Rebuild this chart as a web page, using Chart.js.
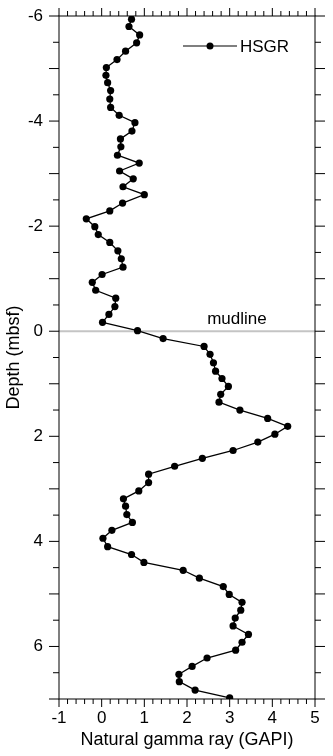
<!DOCTYPE html>
<html>
<head>
<meta charset="utf-8">
<script src="https://cdn.jsdelivr.net/npm/chart.js@4"></script>
<style>
  body { margin: 0; background: #fff; }
  canvas { display: block; }
</style>
</head>
<body>
<canvas id="myChart1" width="333" height="756"></canvas>
<script>
// depth below seafloor (mbsf)
const depth = [
  -5.94, -5.80, -5.64, -5.49, -5.33, -5.17, -5.02, -4.87, -4.73, -4.58,
  -4.42, -4.26, -4.11, -3.97, -3.81, -3.66, -3.51, -3.35, -3.20, -3.05,
  -2.90, -2.75, -2.60, -2.44, -2.29, -2.14, -1.99, -1.84, -1.69, -1.53,
  -1.38, -1.22, -1.08, -0.93, -0.78, -0.63, -0.47, -0.32, -0.17, -0.01,
  0.14, 0.29, 0.44, 0.60, 0.76, 0.90, 1.05, 1.20, 1.35, 1.50,
  1.66, 1.81, 1.96, 2.11, 2.27, 2.42, 2.57, 2.72, 2.88, 3.04,
  3.19, 3.33, 3.49, 3.64, 3.79, 3.94, 4.10, 4.25, 4.40, 4.55,
  4.70, 4.86, 5.01, 5.16, 5.31, 5.46, 5.61, 5.77, 5.92, 6.07,
  6.22, 6.38, 6.53, 6.67, 6.83, 6.98
];
// HSGR natural gamma ray (GAPI)
const hsgr = [
  0.70, 0.64, 0.89, 0.82, 0.56, 0.36, 0.11, 0.10, 0.14, 0.21,
  0.19, 0.21, 0.41, 0.78, 0.71, 0.44, 0.45, 0.37, 0.88, 0.42,
  0.74, 0.50, 1.00, 0.49, 0.19, -0.36, -0.16, -0.08, 0.19, 0.38,
  0.46, 0.50, 0.01, -0.22, -0.14, 0.33, 0.31, 0.17, 0.02, 0.84,
  1.44, 2.40, 2.54, 2.62, 2.67, 2.82, 2.97, 2.79, 2.75, 3.24,
  3.89, 4.36, 4.06, 3.66, 3.08, 2.36, 1.71, 1.10, 1.10, 0.87,
  0.51, 0.56, 0.59, 0.72, 0.24, 0.03, 0.14, 0.70, 0.99, 1.91,
  2.29, 2.85, 2.99, 3.29, 3.26, 3.13, 3.08, 3.44, 3.29, 3.14,
  2.47, 2.12, 1.81, 1.82, 2.19, 3.00
];
const xTickValues = [-1, 0, 1, 2, 3, 4, 5];
const yTickValues = [-6, -4, -2, 0, 2, 4, 6];
const mudlineDepth = 0;
const mudlineLabel = 'mudline';
const seriesName = 'HSGR';

const FONT = 'Liberation Sans, Arial, Helvetica, sans-serif';

// frame, outward ticks, mudline and inset legend
const decorations = {
  id: 'decorations',
  beforeDatasetsDraw(chart) {
    const {ctx, chartArea: a, scales: {x, y}} = chart;
    const my = y.getPixelForValue(mudlineDepth);
    ctx.save();
    ctx.strokeStyle = '#c4c4c4';
    ctx.lineWidth = 2;
    ctx.beginPath();
    ctx.moveTo(a.left, my);
    ctx.lineTo(a.right, my);
    ctx.stroke();
    ctx.fillStyle = '#000';
    ctx.font = '17px ' + FONT;
    ctx.textAlign = 'center';
    ctx.textBaseline = 'bottom';
    ctx.fillText(mudlineLabel, x.getPixelForValue(3.17), my - 3);
    ctx.restore();
  },
  afterDraw(chart) {
    const {ctx, chartArea: a, scales: {x, y}} = chart;
    ctx.save();
    ctx.strokeStyle = '#000';
    ctx.lineWidth = 1;
    ctx.strokeRect(a.left, a.top, a.right - a.left, a.bottom - a.top);
    ctx.beginPath();
    for (let i = 0; i <= 30; i++) {
      const px = x.getPixelForValue(-1 + i * 0.2);
      const len = i % 5 === 0 ? 8 : 5;
      ctx.moveTo(px, a.bottom);
      ctx.lineTo(px, a.bottom + len);
      ctx.moveTo(px, a.top);
      ctx.lineTo(px, a.top - len);
    }
    for (let i = 0; i <= 26; i++) {
      const py = y.getPixelForValue(-6 + i * 0.5);
      const len = i % 2 === 0 ? 10 : 6;
      ctx.moveTo(a.left, py);
      ctx.lineTo(a.left - len, py);
      ctx.moveTo(a.right, py);
      ctx.lineTo(a.right + len, py);
    }
    ctx.stroke();

    // legend
    const ly = 46;
    ctx.lineWidth = 1.2;
    ctx.beginPath();
    ctx.moveTo(183, ly);
    ctx.lineTo(237, ly);
    ctx.stroke();
    ctx.fillStyle = '#000';
    ctx.beginPath();
    ctx.arc(210, ly, 3.5, 0, Math.PI * 2);
    ctx.fill();
    ctx.font = '17px ' + FONT;
    ctx.textAlign = 'left';
    ctx.textBaseline = 'middle';
    ctx.fillText(seriesName, 240, ly + 1);
    ctx.restore();
  }
};

document.addEventListener("DOMContentLoaded", function() {
  const ctx = document.getElementById('myChart1').getContext('2d');

  const data = {
    datasets: [{
      label: seriesName,
      data: depth.map((d, i) => ({x: hsgr[i], y: d})),
      showLine: true,
      borderColor: '#000',
      backgroundColor: '#000',
      borderWidth: 1.3,
      pointRadius: 3.6,
      pointBorderWidth: 0,
      tension: 0
    }]
  };

  const options = {
    responsive: false,
    animation: false,
    layout: { padding: { top: 16, right: 18, left: 0, bottom: 0 } },
    plugins: { legend: { display: false }, tooltip: { enabled: false } },
    scales: {
      x: {
        type: 'linear',
        position: 'bottom',
        min: -1, max: 5,
        afterBuildTicks: s => { s.ticks = xTickValues.map(v => ({value: v})); },
        afterFit: s => { s.height = 57; s.paddingLeft = 0; s.paddingRight = 0; },
        grid: { display: false, drawTicks: false },
        border: { display: false },
        ticks: { color: '#000', font: { size: 17, family: FONT }, padding: 9, maxRotation: 0 },
        title: { display: true, text: 'Natural gamma ray (GAPI)', color: '#000',
                 font: { size: 18, family: FONT }, padding: { top: 0, bottom: 5 } }
      },
      y: {
        type: 'linear',
        position: 'left',
        reverse: true,
        min: -6, max: 7,
        afterBuildTicks: s => { s.ticks = yTickValues.map(v => ({value: v})); },
        afterFit: s => { s.width = 59; s.paddingTop = 0; s.paddingBottom = 0; },
        grid: { display: false, drawTicks: false },
        border: { display: false },
        ticks: { color: '#000', font: { size: 17, family: FONT }, padding: 16 },
        title: { display: true, text: 'Depth (mbsf)', color: '#000',
                 font: { size: 18, family: FONT }, padding: { top: 3, bottom: 0 } }
      }
    }
  };

  new Chart(ctx, {
    type: 'scatter',
    data: data,
    options: options,
    plugins: [decorations]
  });
});
</script>
</body>
</html>
